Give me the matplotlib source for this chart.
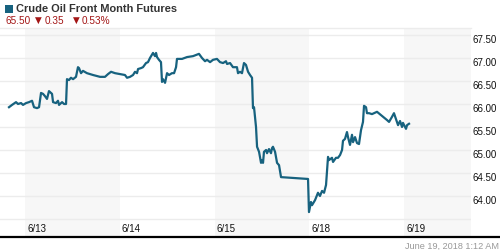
import matplotlib
matplotlib.use("Agg")
import matplotlib.pyplot as plt
import matplotlib.transforms as mtransforms
from matplotlib.patches import Rectangle

plt.rcParams['font.family'] = ['Liberation Sans', 'DejaVu Sans']

# ---- data (x = trading-day position, 0 = start of 6/13) ----
day_labels = ['6/13', '6/14', '6/15', '6/18', '6/19']
day_pos = [0, 1, 2, 3, 4]
shaded_days = [0, 2, 4]
y_ticks = [64.0, 64.5, 65.0, 65.5, 66.0, 66.5, 67.0, 67.5]
grid_levels = [63.5, 64.0, 64.5, 65.0, 65.5, 66.0, 66.5, 67.0, 67.5]

t = [-0.169, -0.137, -0.095, -0.074, -0.042, -0.021, 0.011, 0.042, 0.074, 0.095,
     0.127, 0.148, 0.169, 0.190, 0.211, 0.232, 0.253, 0.285, 0.296, 0.327,
     0.348, 0.359, 0.391, 0.412, 0.433, 0.443, 0.464, 0.485, 0.507, 0.538,
     0.559, 0.570, 0.591, 0.612, 0.654, 0.718, 0.792, 0.844, 0.876, 0.908,
     0.950, 1.003, 1.055, 1.077, 1.108, 1.140, 1.161, 1.182, 1.193, 1.224,
     1.245, 1.277, 1.298, 1.319, 1.340, 1.351, 1.372, 1.383, 1.393, 1.414,
     1.435, 1.446, 1.456, 1.478, 1.499, 1.520, 1.551, 1.573, 1.594, 1.604,
     1.657, 1.710, 1.773, 1.836, 1.868, 1.900, 1.921, 1.953, 1.984, 2.026,
     2.058, 2.090, 2.121, 2.132, 2.164, 2.195, 2.237, 2.248, 2.269, 2.290,
     2.311, 2.332, 2.354, 2.375, 2.396, 2.406, 2.417, 2.438, 2.449, 2.470,
     2.491, 2.501, 2.512, 2.522, 2.544, 2.554, 2.575, 2.596, 2.607, 2.617,
     2.639, 2.660, 2.681, 2.702, 2.987, 2.997, 3.018, 3.029, 3.061, 3.092,
     3.113, 3.135, 3.156, 3.177, 3.198, 3.208, 3.240, 3.251, 3.282, 3.303,
     3.325, 3.346, 3.356, 3.377, 3.398, 3.409, 3.430, 3.451, 3.462, 3.483,
     3.504, 3.525, 3.546, 3.567, 3.578, 3.599, 3.609, 3.631, 3.662, 3.683,
     3.715, 3.768, 3.821, 3.842, 3.873, 3.894, 3.926, 3.937, 3.958, 3.979,
     3.989, 4.021, 4.032, 4.053]

price = [65.93, 65.98, 66.04, 66.00, 66.02, 65.98, 66.02, 66.04, 66.07, 65.93,
         65.91, 65.93, 66.24, 66.22, 66.17, 66.11, 66.28, 66.22, 66.04, 66.02,
         66.07, 65.98, 66.04, 66.00, 66.00, 66.54, 66.52, 66.57, 66.54, 66.59,
         66.80, 66.78, 66.67, 66.72, 66.67, 66.63, 66.59, 66.59, 66.65, 66.70,
         66.67, 66.65, 66.63, 66.57, 66.59, 66.63, 66.70, 66.67, 66.76, 66.78,
         66.80, 66.89, 66.91, 67.00, 67.07, 67.11, 67.04, 67.11, 67.02, 66.96,
         66.91, 66.48, 66.54, 66.46, 66.67, 66.63, 66.67, 66.67, 66.80, 66.98,
         66.98, 67.02, 67.04, 67.09, 67.00, 66.93, 66.96, 66.91, 66.96, 66.98,
         66.91, 66.89, 66.93, 66.87, 66.89, 66.80, 66.80, 66.67, 66.70, 66.67,
         66.89, 66.85, 66.70, 66.63, 66.57, 65.91, 65.93, 65.50, 65.07, 64.96,
         64.72, 64.78, 64.72, 64.96, 65.00, 64.93, 65.02, 64.93, 65.04, 65.07,
         64.96, 64.72, 64.67, 64.41, 64.37, 63.65, 63.87, 63.80, 63.91, 64.07,
         64.00, 64.11, 64.07, 64.24, 64.85, 64.78, 64.83, 64.74, 64.83, 64.83,
         64.89, 65.00, 65.20, 65.24, 65.39, 65.28, 65.11, 65.33, 65.17, 65.28,
         65.15, 65.13, 65.43, 65.61, 65.96, 65.93, 65.80, 65.80, 65.78, 65.80,
         65.83, 65.74, 65.65, 65.61, 65.72, 65.80, 65.61, 65.54, 65.63, 65.50,
         65.59, 65.46, 65.54, 65.57]

title = "Crude Oil Front Month Futures"
last_price = "65.50"
change = "0.35"
change_pct = "0.53%"
timestamp = "June 19, 2018 1:12 AM"

LINE = '#17627f'
RED = '#a31515'

W, H = 500, 250
fig = plt.figure(figsize=(5, 2.5), dpi=100)
fig.patch.set_facecolor('white')

def fx(px):
    return px / W

def fy(py):
    return 1 - py / H

ax = fig.add_axes([0, fy(236), fx(471), fy(28) - fy(236)])
ax.set_xlim(-0.264, 4.707)
ax.set_ylim(63.13, 67.652)

for d in shaded_days:
    ax.axvspan(d, d + 1, color='#f7f7f7', lw=0, zorder=0)

for g in grid_levels:
    ax.axhline(g, color='#ececec', lw=1.0, zorder=1)

ax.plot(t, price, color=LINE, lw=1.6, zorder=3, solid_joinstyle='round')

ax.set_xticks([])
ax.set_yticks([])
for s in ['left', 'right', 'bottom']:
    ax.spines[s].set_visible(False)
ax.spines['top'].set_color('#ececec')
ax.spines['top'].set_linewidth(1.0)

# y tick labels on the right, just below each gridline
ytrans = mtransforms.blended_transform_factory(ax.transAxes, ax.transData) + \
    mtransforms.ScaledTranslation(1.5 / 100, -8.5 / 100, fig.dpi_scale_trans)
for v in y_ticks:
    ax.text(1.0, v, f"{v:.2f}", transform=ytrans, ha='left', va='baseline',
            fontsize=7, color='#111111', clip_on=False)

# x day labels inside the bottom of the plot
xtrans = mtransforms.blended_transform_factory(ax.transData, fig.transFigure) + \
    mtransforms.ScaledTranslation(2 / 100, 0, fig.dpi_scale_trans)
for d, lab in zip(day_pos, day_labels):
    ax.text(d, fy(231.5), lab, transform=xtrans, ha='left', va='baseline',
            fontsize=7, color='#111111')

# bottom black rule
fig.add_artist(plt.Line2D([0, 1], [fy(237), fy(237)], transform=fig.transFigure,
                          color='black', lw=1.6))

# header
fig.add_artist(Rectangle((fx(5), fy(13)), fx(8), 8 / H, transform=fig.transFigure,
                         color='#17627f', lw=0))
fig.text(fx(16), fy(12.5), title, fontsize=7.9, fontweight='bold',
         color='#333333', ha='left', va='baseline')
fig.text(fx(5), fy(24.3), last_price, fontsize=7.2, color=RED, ha='left', va='baseline')
fig.text(fx(38.5), fy(23.0), '▼', fontsize=6.3, color=RED, ha='center', va='baseline',
         family=['DejaVu Sans'])
fig.text(fx(45), fy(24.3), change, fontsize=7.2, color=RED, ha='left', va='baseline')
fig.text(fx(76), fy(23.0), '▼', fontsize=6.3, color=RED, ha='center', va='baseline',
         family=['DejaVu Sans'])
fig.text(fx(82), fy(24.3), change_pct, fontsize=7.2, color=RED, ha='left', va='baseline')

fig.text(fx(499), fy(249), timestamp, fontsize=6.6, color='#999999',
         ha='right', va='baseline')

fig.savefig('out.png', dpi=100)
